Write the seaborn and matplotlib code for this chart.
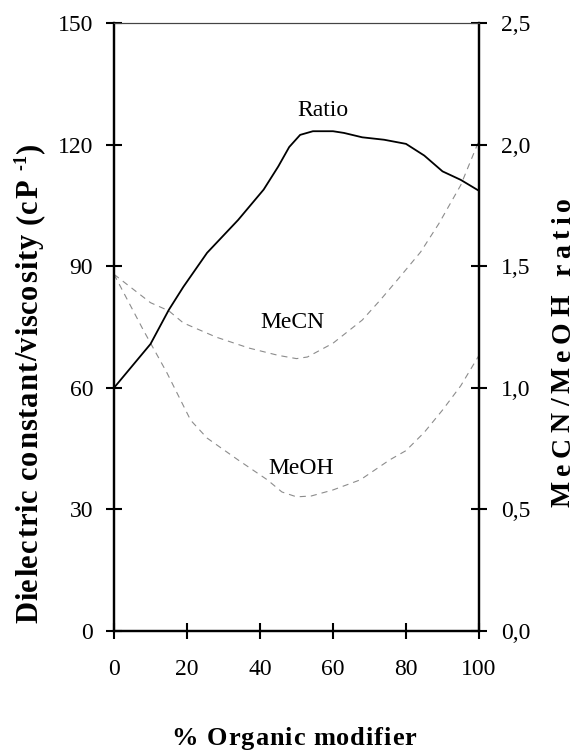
import numpy as np
import pandas as pd
import seaborn as sns
import matplotlib
matplotlib.use("Agg")
import matplotlib.pyplot as plt
from matplotlib.ticker import FuncFormatter
from matplotlib.font_manager import FontProperties, findfont, get_font

# --- data ------------------------------------------------------------------
pct_ratio = [0, 10, 15, 19, 25.5, 34, 41, 45, 48, 51, 54.5, 60, 63, 68, 74, 80, 85, 90, 95, 100]
ratio = [1.00, 1.18, 1.32, 1.415, 1.555, 1.69, 1.815, 1.91, 1.99, 2.04, 2.055, 2.055,
         2.048, 2.03, 2.02, 2.003, 1.955, 1.89, 1.855, 1.81]

pct_mecn = [0, 10, 15, 19, 28, 37, 45, 50, 53, 60, 68, 73, 78, 84, 89, 95, 100]
mecn = [88, 81, 79, 76, 72.5, 69.8, 68, 67.2, 67.6, 71, 76.7, 81.7, 87, 93.5, 100.5, 110, 121]

pct_meoh = [0, 8, 14.5, 21, 25.5, 34, 42, 46, 50, 54, 60, 67.5, 75.5, 80, 85, 90, 95, 100]
meoh = [88, 74.3, 63.7, 52, 47.6, 42.2, 37.3, 34.3, 33.1, 33.3, 34.8, 37.3, 42.2,
        44.5, 49, 54.5, 60.5, 68]

left_ticks = [0, 30, 60, 90, 120, 150]
right_ticks = [0.0, 0.5, 1.0, 1.5, 2.0, 2.5]
x_ticks = [0, 20, 40, 60, 80, 100]

W, H, DPI = 579, 750, 100

sns.set_style("ticks")
plt.rcParams["font.family"] = ["Liberation Serif", "DejaVu Serif"]
for key in ("text.color", "axes.labelcolor", "xtick.color", "ytick.color", "axes.edgecolor"):
    plt.rcParams[key] = "black"

bold_font = get_font(findfont(FontProperties(family="Liberation Serif", weight="bold")))


def advance(ch, size):
    """Advance width of one bold glyph, in points."""
    bold_font.set_size(size, 72)
    return bold_font.load_char(ord(ch)).linearHoriAdvance / 65536


def spaced_label(fig, pieces, x_px, y_px, length_px, rotation=0):
    """Letter-spaced bold label, centred on (x_px, y_px) along its baseline."""
    glyphs = [(ch, size, rise, advance(ch, size)) for s, size, rise in pieces for ch in s]
    natural = sum(g[3] for g in glyphs)
    target = length_px * 72 / DPI
    track = max(0.0, (target - natural) / (len(glyphs) - 1))
    k = DPI / 72
    pos = -(natural + track * (len(glyphs) - 1)) / 2
    for ch, size, rise, adv in glyphs:
        if rotation == 0:
            fx, fy = (x_px + pos * k) / W, 1 - (y_px - rise * k) / H
        else:
            fx, fy = (x_px - rise * k) / W, 1 - (y_px - pos * k) / H
        fig.text(fx, fy, ch, fontsize=size, fontweight="bold", rotation=rotation,
                 rotation_mode="anchor", ha="left", va="baseline")
        pos += adv + track


fig = plt.figure(figsize=(W / DPI, H / DPI), dpi=DPI)
ax = fig.add_axes([114 / W, 1 - 631 / H, 365 / W, 608 / H])
ax2 = ax.twinx()
ax2.set_position(ax.get_position())

dash = (0, (5.5, 4.5))
sns.lineplot(x=pct_mecn, y=mecn, ax=ax, color="#8c8c8c", linewidth=0.8, linestyle=dash)
sns.lineplot(x=pct_meoh, y=meoh, ax=ax, color="#8c8c8c", linewidth=0.8, linestyle=dash)
sns.lineplot(x=pct_ratio, y=ratio, ax=ax2, color="black", linewidth=1.3)

ax.set_xlim(0, 100)
ax.set_ylim(0, 150)
ax2.set_ylim(0, 2.5)
ax.set_xticks(x_ticks)
ax.set_yticks(left_ticks)
ax2.set_yticks(right_ticks)
ax2.yaxis.set_major_formatter(FuncFormatter(lambda v, _: f"{v:.1f}".replace(".", ",")))
ax.set_xlabel("")
ax.set_ylabel("")
ax2.set_ylabel("")

for a in (ax, ax2):
    for side in ("left", "right", "bottom"):
        a.spines[side].set_linewidth(1.6)
        a.spines[side].set_color("black")
    a.spines["top"].set_linewidth(0.8)
    a.spines["top"].set_color("#444444")
    a.spines["top"].set_visible(True)
    a.spines["right"].set_visible(True)

ax.tick_params(axis="y", direction="inout", length=12, width=1.5, labelsize=17, pad=9)
ax.tick_params(axis="x", direction="inout", length=12, width=1.5, labelsize=17, pad=14)
ax2.tick_params(axis="y", direction="inout", length=12, width=1.5, labelsize=17, pad=10)

ax.text(57.3, 128.5, "Ratio", fontsize=17, ha="center", va="center")
ax.text(48.8, 76.2, "MeCN", fontsize=17, ha="center", va="center")
ax.text(51.2, 40.2, "MeOH", fontsize=17, ha="center", va="center")

spaced_label(fig, [("% Organic modifier", 19, 0)], 294, 745, 245)
spaced_label(fig, [("Dielectric constant/viscosity (cP ", 22, 0), ("-1", 13, 8), (")", 22, 0)],
             37, 383, 480, rotation=90)
spaced_label(fig, [("MeCN/MeOH ratio", 20, 0)], 570, 352, 310, rotation=90)

fig.savefig("out.png", dpi=DPI)
